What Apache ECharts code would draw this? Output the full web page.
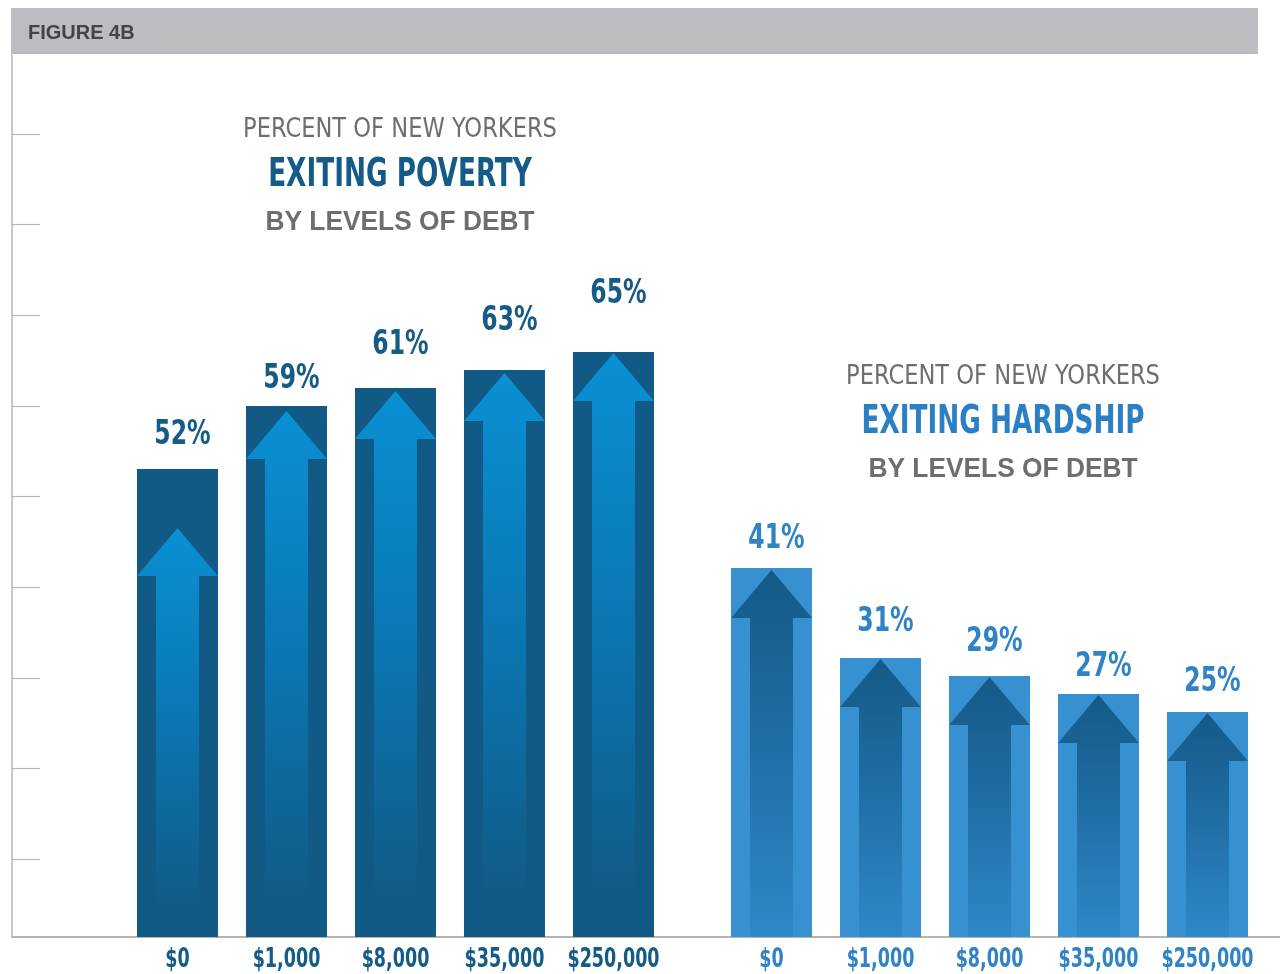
<!DOCTYPE html>
<html>
<head>
<meta charset="utf-8">
<title>Figure 4B</title>
<script src="https://cdn.jsdelivr.net/npm/echarts@6/dist/echarts.min.js"></script>
<style>
  html, body { margin: 0; padding: 0; background: #ffffff; }
  #chart { width: 1280px; height: 974px; }
</style>
</head>
<body>
<div id="chart"></div>
<script>
// Debt levels shared by both panels
const debtLevels = ['$0', '$1,000', '$8,000', '$35,000', '$250,000'];
// Percent of New Yorkers exiting poverty, by debt level
const povertyValues = [52, 59, 61, 63, 65];
// Percent of New Yorkers exiting hardship, by debt level
const hardshipValues = [41, 31, 29, 27, 25];

// Styling
const NARROW = '"Liberation Sans Narrow", "DejaVu Sans Condensed", "Roboto Condensed", sans-serif';
const WIDE = '"Liberation Sans", Arial, "DejaVu Sans", sans-serif';
const DARK_BLUE = '#115a86';
const LIGHT_BLUE = '#3791d1';
const GRID_GRAY = '#b4b4b4';

// How far each arrow head sits below its bar top, and how high each value label floats
const arrowDrop = { poverty: [59, 5, 3, 3, 1], hardship: [2, 1, 1, 1, 1] };
const labelLift = { poverty: [34, 27, 43, 49, 58], hardship: [29, 36, 34, 27, 30] };

const panels = {
  poverty: {
    bar: DARK_BLUE,
    label: '#145b87',
    arrow: [
      { offset: 0, color: '#0a90d4' },
      { offset: 0.48, color: '#0a76b1' },
      { offset: 0.93, color: '#115a86' },
      { offset: 1, color: '#115a86' }
    ]
  },
  hardship: {
    bar: LIGHT_BLUE,
    label: '#2f83c6',
    arrow: [
      { offset: 0, color: '#135a86' },
      { offset: 0.5, color: '#216fa8' },
      { offset: 1, color: '#2e88c8' }
    ]
  }
};

// One bar with its up-arrow, value label above and debt-level label below
function arrowBars(key) {
  const p = panels[key];
  return function (params, api) {
    const i = params.dataIndex;
    const v = api.value(1);
    const top = api.coord([api.value(0), v]);
    const base = api.coord([api.value(0), 0]);
    const band = api.size([1, 0])[0];
    const w = band * 0.743;
    const cx = top[0];
    const x0 = cx - w / 2, x1 = cx + w / 2;
    const apexY = top[1] + arrowDrop[key][i];
    const headY = apexY + 48;
    const sh = 21.5;
    return {
      type: 'group',
      children: [
        {
          type: 'rect',
          shape: { x: x0, y: top[1], width: w, height: base[1] - top[1] },
          style: { fill: p.bar }
        },
        {
          type: 'polygon',
          shape: {
            points: [
              [cx, apexY], [x1, headY], [cx + sh, headY], [cx + sh, base[1]],
              [cx - sh, base[1]], [cx - sh, headY], [x0, headY]
            ]
          },
          style: { fill: new echarts.graphic.LinearGradient(0, 0, 0, 1, p.arrow) }
        },
        {
          type: 'text',
          x: cx + 5,
          y: top[1] - labelLift[key][i],
          scaleX: 0.77,
          style: {
            text: v + '%',
            fill: p.label,
            font: 'bold 34px ' + NARROW,
            align: 'center',
            verticalAlign: 'middle'
          }
        },
        {
          type: 'text',
          x: cx,
          y: base[1] + 23,
          scaleX: 0.75,
          style: {
            text: debtLevels[api.value(0)],
            fill: p.label,
            font: 'bold 26px ' + NARROW,
            align: 'center',
            verticalAlign: 'middle'
          }
        }
      ]
    };
  };
}

function titleBlock(cx, cy, accentText, accentColor) {
  return [
    {
      type: 'text', x: cx, y: cy - 46, scaleX: 0.93,
      style: { text: 'PERCENT OF NEW YORKERS', fill: '#6d6e71', font: '27px ' + NARROW, align: 'center', verticalAlign: 'middle' }
    },
    {
      type: 'text', x: cx, y: cy, scaleX: 0.75,
      style: { text: accentText, fill: accentColor, font: 'bold 39px ' + NARROW, align: 'center', verticalAlign: 'middle' }
    },
    {
      type: 'text', x: cx, y: cy + 46, scaleX: 0.94,
      style: { text: 'BY LEVELS OF DEBT', fill: '#6d6e71', font: 'bold 28px ' + WIDE, align: 'center', verticalAlign: 'middle' }
    }
  ];
}

const chart = echarts.init(document.getElementById('chart'), null, { renderer: 'canvas' });

const hiddenValueAxis = (gi, max) => ({
  type: 'value', gridIndex: gi, min: 0, max: max,
  axisLine: { show: false }, axisTick: { show: false }, axisLabel: { show: false }, splitLine: { show: false }
});

const catAxis = (gi) => ({
  type: 'category', gridIndex: gi, data: debtLevels,
  axisLine: { show: false }, axisTick: { show: false }, splitLine: { show: false },
  axisLabel: { show: false }
});

chart.setOption({
  animation: false,
  backgroundColor: '#ffffff',
  grid: [
    // frame: left rule and baseline
    { left: 12, right: 0, top: 55, bottom: 37 },
    // decorative tick marks on the left rule
    { left: 12, width: 40, top: 134, height: 725 },
    // poverty panel
    { left: 123, width: 545, top: 55, bottom: 37 },
    // hardship panel
    { left: 717, width: 545, top: 55, bottom: 37 }
  ],
  xAxis: [
    {
      type: 'value', gridIndex: 0, min: 0, max: 1,
      axisLine: { show: true, lineStyle: { color: GRID_GRAY, width: 2 } },
      axisTick: { show: false }, axisLabel: { show: false }, splitLine: { show: false }
    },
    { type: 'value', gridIndex: 1, show: false, min: 0, max: 1 },
    catAxis(2),
    catAxis(3)
  ],
  yAxis: [
    {
      type: 'value', gridIndex: 0, min: 0, max: 1,
      axisLine: { show: true, lineStyle: { color: GRID_GRAY, width: 1.5 } },
      axisTick: { show: false }, axisLabel: { show: false }, splitLine: { show: false }
    },
    {
      type: 'value', gridIndex: 1, min: 0, max: 80, interval: 10,
      axisLine: { show: false },
      axisTick: { show: true, inside: true, length: 28, lineStyle: { color: GRID_GRAY, width: 1.2 } },
      axisLabel: { show: false }, splitLine: { show: false }
    },
    hiddenValueAxis(2, 98),
    hiddenValueAxis(3, 98)
  ],
  graphic: [
    { type: 'rect', shape: { x: 11, y: 8, width: 1247, height: 46 }, style: { fill: '#bcbdc0' } },
    {
      type: 'text', x: 28, y: 33,
      style: { text: 'FIGURE 4B', fill: '#3e454b', font: 'bold 20px ' + WIDE, align: 'left', verticalAlign: 'middle' }
    },
    ...titleBlock(400, 176, 'EXITING POVERTY', '#145b87'),
    ...titleBlock(1003, 423, 'EXITING HARDSHIP', '#2b7fc4')
  ],
  series: [
    {
      type: 'custom', name: 'Exiting poverty', xAxisIndex: 2, yAxisIndex: 2, clip: false,
      renderItem: arrowBars('poverty'),
      data: povertyValues.map((v, i) => [i, v])
    },
    {
      type: 'custom', name: 'Exiting hardship', xAxisIndex: 3, yAxisIndex: 3, clip: false,
      renderItem: arrowBars('hardship'),
      data: hardshipValues.map((v, i) => [i, v])
    }
  ]
});
</script>
</body>
</html>
